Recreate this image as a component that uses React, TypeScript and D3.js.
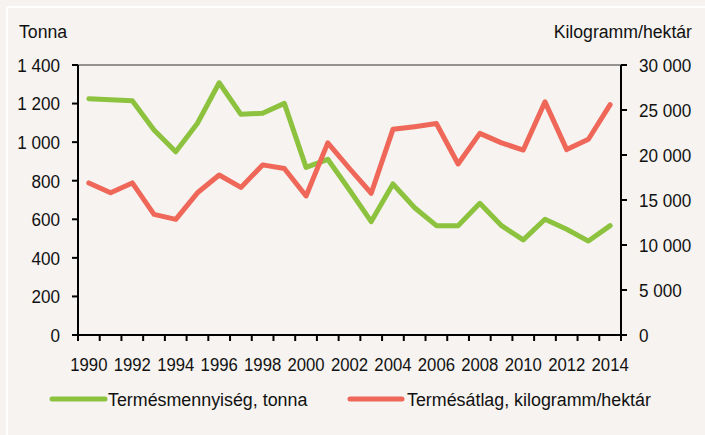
import React from "react";
import * as d3 from "d3";

const years = d3.range(1990, 2015).map(String);
const tonna = [1225, 1220, 1215, 1063, 950, 1098, 1308, 1144, 1150, 1201, 869, 911, 752, 588, 783, 660, 567, 567, 683, 567, 493, 600, 548, 487, 567];
const kgHa = [16900, 15800, 16900, 13400, 12850, 15800, 17780, 16400, 18900, 18500, 15450, 21350, 18500, 15750, 22850, 23150, 23500, 19000, 22400, 21350, 20550, 25900, 20600, 21750, 25600];
const leftTicks = [0, 200, 400, 600, 800, 1000, 1200, 1400];
const rightTicks = [0, 5000, 10000, 15000, 20000, 25000, 30000];
const leftTitle = "Tonna";
const rightTitle = "Kilogramm/hektár";
const seriesNames = ["Termésmennyiség, tonna", "Termésátlag, kilogramm/hektár"];

const W = 705, H = 435;
const M = { l: 78, r: 621, t: 65, b: 335 };
const GREEN = "#8dc23f";
const RED = "#ef6759";
const FONT = "'Liberation Sans', Arial, sans-serif";

const fmt = (v: number) => d3.format(",")(v).replace(/,/g, " ");

function T({ x, y, s = 0.9, anchor = "start", dy, children }: any) {
  return (
    <text
      transform={`translate(${x},${y}) scale(${s},1)`}
      dy={dy}
      fontSize={19}
      fill="#111"
      textAnchor={anchor}
    >
      {children}
    </text>
  );
}

export default function App() {
  const x = d3.scaleBand<string>().domain(years).range([M.l, M.r]).padding(0);
  const yL = d3.scaleLinear().domain([0, 1400]).range([M.b, M.t]);
  const yR = d3.scaleLinear().domain([0, 30000]).range([M.b, M.t]);
  const cx = (yr: string) => (x(yr) as number) + x.bandwidth() / 2;
  const lineL = d3.line<number>().x((_, i) => cx(years[i])).y((d) => yL(d));
  const lineR = d3.line<number>().x((_, i) => cx(years[i])).y((d) => yR(d));
  const boundaries = years.map((yr) => x(yr) as number).concat([M.r]);

  return (
    <svg width={W} height={H} style={{ position: "absolute", left: 0, top: 0 }} fontFamily={FONT}>
      <rect x={0} y={0} width={W} height={H} fill="#f6f3f0" />
      <line x1={7} x2={7} y1={7} y2={H} stroke="#ffffff" strokeWidth={2} />
      <line x1={7} x2={W} y1={7} y2={7} stroke="#ffffff" strokeWidth={2} />

      <T x={19} y={38} s={0.93}>{leftTitle}</T>
      <T x={692} y={38} s={0.93} anchor="end">{rightTitle}</T>

      {/* frame */}
      <line x1={M.l} x2={M.r} y1={M.t} y2={M.t} stroke="#333" strokeWidth={1} />
      <line x1={M.l} x2={M.l} y1={M.t} y2={M.b} stroke="#000" strokeWidth={2} />
      <line x1={M.r} x2={M.r} y1={M.t} y2={M.b} stroke="#000" strokeWidth={2} />
      <line x1={M.l - 6} x2={M.r + 6} y1={M.b} y2={M.b} stroke="#000" strokeWidth={2} />

      {leftTicks.map((t) => (
        <g key={"l" + t}>
          <line x1={M.l - 6} x2={M.l} y1={yL(t)} y2={yL(t)} stroke="#000" strokeWidth={2} />
          <T x={60} y={yL(t)} dy="0.36em" anchor="end">{fmt(t)}</T>
        </g>
      ))}
      {rightTicks.map((t) => (
        <g key={"r" + t}>
          <line x1={M.r} x2={M.r + 6} y1={yR(t)} y2={yR(t)} stroke="#000" strokeWidth={2} />
          <T x={639} y={yR(t)} dy="0.36em">{fmt(t)}</T>
        </g>
      ))}
      {boundaries.map((b, i) => (
        <line key={"xt" + i} x1={b} x2={b} y1={M.b} y2={M.b + 6} stroke="#000" strokeWidth={2} />
      ))}
      {years.filter((_, i) => i % 2 === 0).map((yr) => (
        <T key={"xl" + yr} x={cx(yr)} y={371} s={0.88} anchor="middle">{yr}</T>
      ))}

      <path d={lineL(tonna) || ""} fill="none" stroke={GREEN} strokeWidth={5} strokeLinejoin="round" strokeLinecap="round" />
      <path d={lineR(kgHa) || ""} fill="none" stroke={RED} strokeWidth={5} strokeLinejoin="round" strokeLinecap="round" />

      {/* legend */}
      <line x1={52} x2={105} y1={399} y2={399} stroke={GREEN} strokeWidth={5} strokeLinecap="round" />
      <T x={108} y={399} dy="0.36em" s={0.94}>{seriesNames[0]}</T>
      <line x1={350} x2={402} y1={399} y2={399} stroke={RED} strokeWidth={5} strokeLinecap="round" />
      <T x={407} y={399} dy="0.36em" s={0.94}>{seriesNames[1]}</T>
    </svg>
  );
}
